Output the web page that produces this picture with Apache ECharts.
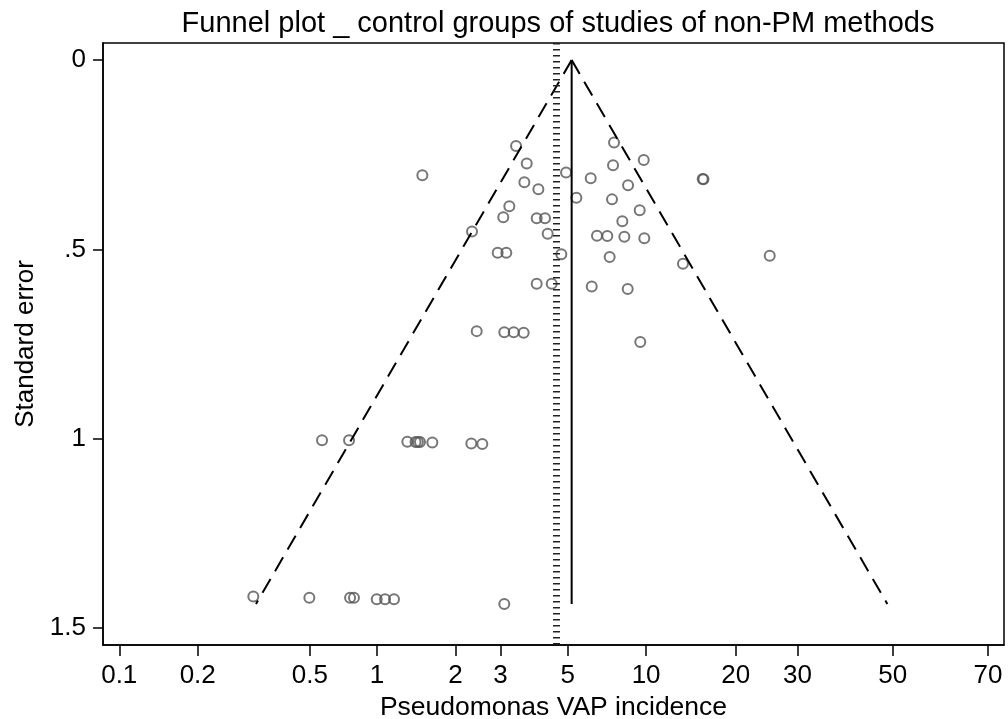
<!DOCTYPE html>
<html><head><meta charset="utf-8">
<script src="https://cdn.jsdelivr.net/npm/echarts@6/dist/echarts.min.js"></script>
<style>html,body{margin:0;padding:0;background:#fff}#c{width:1008px;height:719px}</style>
</head><body><div id="c"></div>
<script>
const titleText = 'Funnel plot _ control groups of studies of non-PM methods';
const xAxisTitle = 'Pseudomonas VAP incidence';
const yAxisTitle = 'Standard error';
// x axis is logit(incidence); tick positions (logit) and their labels (%)
const xTickPositions = [-6.9, -6.2, -5.2, -4.6, -3.9, -3.5, -2.9, -2.2, -1.4, -0.85, 0, 0.85];
const xTickLabels = ['0.1', '0.2', '0.5', '1', '2', '3', '5', '10', '20', '30', '50', '70'];
const yTickValues = [0, 0.5, 1, 1.5];
const yTickLabels = ['0', '.5', '1', '1.5'];
// study values: logit incidence and standard error
const logitIncidence = [
  -3.360, -3.265, -4.196, -2.914, -3.286, -3.161, -3.420, -3.474, -3.176, -3.102,
  -3.753, -3.078, -3.524, -3.447, -2.956, -3.176, -3.042, -3.711, -3.465, -3.381, -3.292,
  -2.486, -2.221, -2.495, -2.694, -1.695, -1.688, -2.361, -2.822, -2.504, -2.257,
  -2.412, -2.638, -2.546, -2.394, -2.216, -2.525, -1.097, -1.871, -2.685, -2.364, -2.252,
  -5.091, -4.850, -4.330, -4.257, -4.236, -4.217, -4.107, -3.759, -3.661,
  -5.704, -5.204, -4.841, -4.806, -4.603, -4.529, -4.449, -3.465
];
const standardError = [
  0.227, 0.273, 0.304, 0.297, 0.323, 0.341, 0.386, 0.415, 0.418, 0.418,
  0.453, 0.459, 0.509, 0.509, 0.513, 0.591, 0.591, 0.716, 0.719, 0.719, 0.720,
  0.218, 0.264, 0.278, 0.312, 0.314, 0.315, 0.331, 0.364, 0.368, 0.397,
  0.426, 0.464, 0.465, 0.467, 0.471, 0.520, 0.517, 0.538, 0.598, 0.605, 0.745,
  1.004, 1.004, 1.008, 1.009, 1.009, 1.009, 1.010, 1.013, 1.014,
  1.417, 1.420, 1.420, 1.420, 1.424, 1.424, 1.424, 1.437
];
const pooledEstimate = -2.864;   // centre of funnel
const referenceEstimate = -3.0;  // dotted reference line
const zCrit = 1.96;

const seMax = Math.max.apply(null, standardError);
const points = logitIncidence.map((v, i) => [v, standardError[i]]);
const leftArm = [[pooledEstimate, 0], [pooledEstimate - zCrit * seMax, seMax]];
const rightArm = [[pooledEstimate, 0], [pooledEstimate + zCrit * seMax, seMax]];
const centreLine = [[pooledEstimate, 0], [pooledEstimate, seMax]];

function lookup(vals, labels, v) {
  for (let i = 0; i < vals.length; i++) if (Math.abs(vals[i] - v) < 1e-6) return labels[i];
  return '';
}
const FONT = 'Liberation Sans, Arial, Helvetica, sans-serif';
const chart = echarts.init(document.getElementById('c'), null, {renderer: 'canvas'});
chart.setOption({
  animation: false,
  backgroundColor: '#fff',
  title: {
    text: titleText, left: 553, textAlign: 'center', top: 4,
    textStyle: {fontFamily: FONT, fontSize: 29, fontWeight: 'normal', color: '#000'}
  },
  grid: {left: 103, right: 4, top: 43, bottom: 74, show: true, borderColor: '#000', borderWidth: 1.5,
    backgroundColor: 'transparent', containLabel: false, outerBoundsMode: 'none'},
  xAxis: {
    type: 'value', min: -7.045, max: 0.993,
    name: xAxisTitle, nameLocation: 'middle', nameGap: 45,
    nameTextStyle: {fontFamily: FONT, fontSize: 26.5, color: '#000'},
    axisLine: {show: true, onZero: false, lineStyle: {color: '#000', width: 1.5}},
    axisTick: {show: true, length: 11, customValues: xTickPositions, lineStyle: {color: '#000', width: 1.5}},
    axisLabel: {customValues: xTickPositions, margin: 18, fontFamily: FONT, fontSize: 26, color: '#000',
      formatter: v => lookup(xTickPositions, xTickLabels, v)},
    splitLine: {show: false}
  },
  yAxis: {
    type: 'value', inverse: true, min: -0.045, max: 1.545,
    name: yAxisTitle, nameLocation: 'middle', nameGap: 63,
    nameTextStyle: {fontFamily: FONT, fontSize: 26, color: '#000'},
    axisLine: {show: true, onZero: false, lineStyle: {color: '#000', width: 1.5}},
    axisTick: {show: true, length: 10, customValues: yTickValues, lineStyle: {color: '#000', width: 1.5}},
    axisLabel: {customValues: yTickValues, margin: 17, fontFamily: FONT, fontSize: 26, color: '#000',
      formatter: v => lookup(yTickValues, yTickLabels, v)},
    splitLine: {show: false}
  },
  series: [
    {
      type: 'line', data: leftArm, symbol: 'none', silent: true,
      lineStyle: {color: '#000', width: 2, type: [16, 9]},
      markLine: {
        silent: true, symbol: 'none', label: {show: false},
        lineStyle: {color: '#222', width: 7, type: [1.5, 4.5]},
        data: [{xAxis: referenceEstimate}]
      }
    },
    {type: 'line', data: rightArm, symbol: 'none', silent: true, lineStyle: {color: '#000', width: 2, type: [16, 9]}},
    {type: 'line', data: centreLine, symbol: 'none', silent: true, lineStyle: {color: '#000', width: 2}},
    {
      type: 'scatter', data: points, symbol: 'circle', symbolSize: 10,
      itemStyle: {color: 'rgba(0,0,0,0)', borderColor: '#555', borderWidth: 2}
    }
  ]
});
</script>
</body></html>
